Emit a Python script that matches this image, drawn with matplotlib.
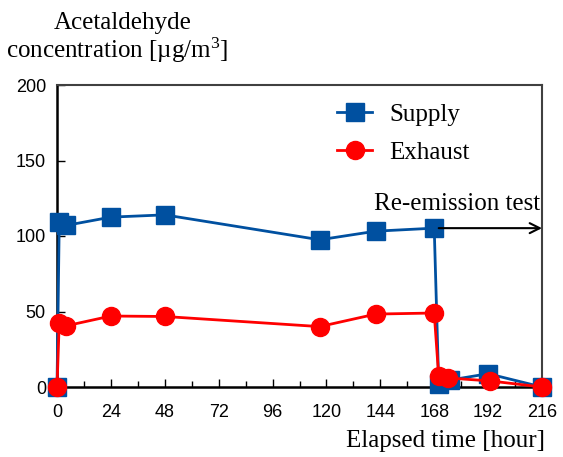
import matplotlib.pyplot as plt
from matplotlib.ticker import MultipleLocator

# data
t_supply = [0, 1, 4, 24, 48, 117, 142, 168, 170, 175, 192, 216]
supply = [0, 109, 107, 112.5, 114, 97.5, 103.2, 105.2, 2, 4.6, 8.8, 0]
t_exhaust = [0, 1, 4, 24, 48, 117, 142, 168, 170, 174, 193, 216]
exhaust = [0, 42.7, 40.5, 47, 46.7, 40, 48.3, 49, 7, 6, 4, 0]
xticks = list(range(0, 217, 24))
yticks = [0, 50, 100, 150, 200]

serif = "Liberation Serif"
sans = "Liberation Sans"
plt.rcParams["mathtext.default"] = "regular"

fig = plt.figure(figsize=(5.63, 4.57), dpi=100)
ax = fig.add_axes([57/563, 1-387/457, 485/563, 302/457])

ax.plot(t_supply, supply, color="#0050A0", lw=2, marker="s", ms=12.5,
        label="Supply", clip_on=False, zorder=3)
ax.plot(t_exhaust, exhaust, color="#FF0000", lw=2, marker="o", ms=13,
        label="Exhaust", clip_on=False, zorder=4)

ax.set_xlim(0, 216)
ax.set_ylim(0, 200)
ax.set_xticks(xticks)
ax.xaxis.set_minor_locator(MultipleLocator(12))
ax.set_yticks(yticks)
ax.tick_params(direction="in", length=6, width=1, labelsize=13)
ax.tick_params(axis="x", pad=12)
ax.tick_params(axis="y", pad=8)
ax.tick_params(which="minor", direction="in", length=4, width=1)
for lab in ax.get_xticklabels() + ax.get_yticklabels():
    lab.set_family(sans)

for s in ["left", "bottom"]:
    ax.spines[s].set_linewidth(1.8)
    ax.spines[s].set_color("black")
for s in ["right", "top"]:
    ax.spines[s].set_linewidth(1.5)
    ax.spines[s].set_color("#404040")

ax.annotate("", xy=(216, 105.2), xytext=(170, 105.2),
            arrowprops=dict(arrowstyle="->", color="black", lw=1.5,
                            mutation_scale=18, shrinkA=0, shrinkB=0))
ax.text(215, 121, "Re-emission test", ha="right", va="center",
        family=serif, fontsize=18)

leg = ax.legend(loc="center left", bbox_to_anchor=(337/563, 1-133.5/457),
                bbox_transform=fig.transFigure, frameon=False,
                prop={"family": serif, "size": 18}, handlelength=1.4,
                labelspacing=0.62, handletextpad=0.7, borderpad=0,
                borderaxespad=0)

fig.text(123/563, 1-23/457, "Acetaldehyde", ha="center", va="center",
         family=serif, fontsize=18)
fig.text(117/563, 1-50/457, "concentration [\u00b5g/m$^{3}$]", ha="center",
         va="center", family=serif, fontsize=18)
fig.text(545/563, 1-441/457, "Elapsed time [hour]", ha="right", va="center",
         family=serif, fontsize=18)

fig.savefig("out.png", dpi=100)
